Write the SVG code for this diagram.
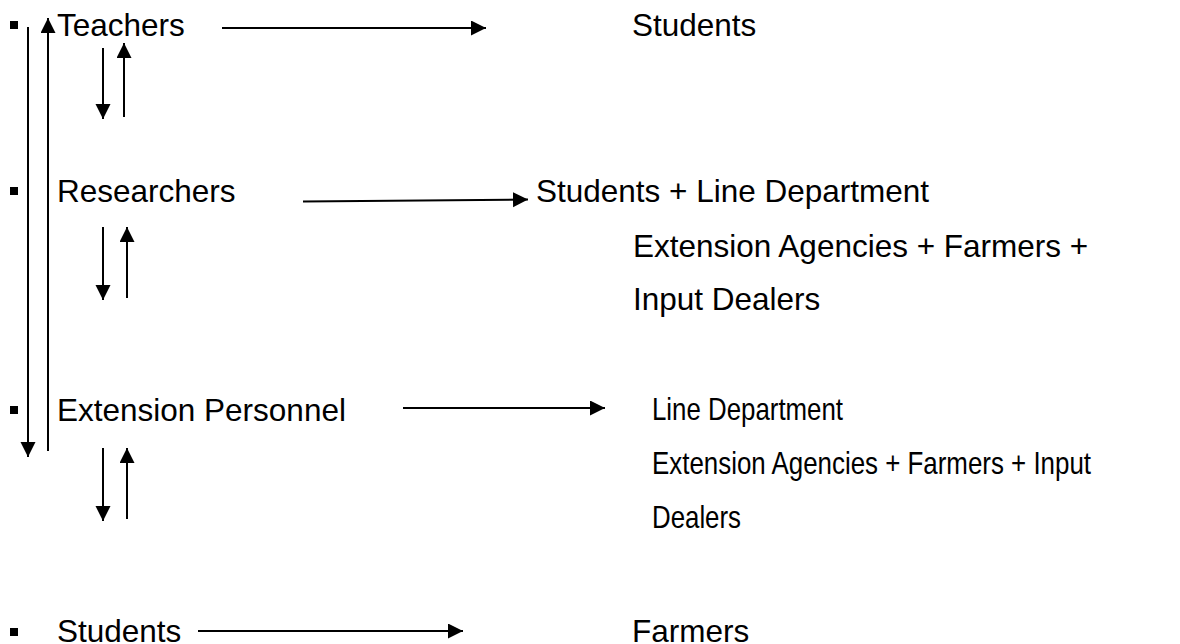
<svg xmlns="http://www.w3.org/2000/svg" width="1180" height="644" viewBox="0 0 1180 644">
<defs>
<marker id="ah" markerUnits="userSpaceOnUse" markerWidth="16" markerHeight="16" refX="15" refY="7.5" orient="auto">
<path d="M0,0 L15,7.5 L0,15 z" fill="#000"/>
</marker>
<style>
.t{font-family:"Liberation Sans",Arial,sans-serif;font-size:31.5px;fill:#000}
.c{stroke:#000;stroke-width:2;fill:none}
.a{marker-end:url(#ah)}
.b{fill:#000}
</style>
</defs>
<rect width="1180" height="644" fill="#fff"/>
<g id="teachers"><rect class="b" x="10" y="21" width="8" height="8"/><text class="t" x="57" y="36">Teachers</text></g>
<g id="students-top"><text class="t" x="632" y="36">Students</text></g>
<g id="researchers"><rect class="b" x="10" y="187" width="8" height="8"/><text class="t" x="57" y="202">Researchers</text></g>
<g id="researchers-targets"><text class="t" x="536" y="202">Students + Line Department</text><text class="t" x="633" y="257">Extension Agencies + Farmers +</text><text class="t" x="633" y="310">Input Dealers</text></g>
<g id="extension"><rect class="b" x="10" y="406" width="8" height="8"/><text class="t" x="57" y="421">Extension Personnel</text></g>
<g id="extension-targets"><text class="t" x="652" y="420" textLength="191" lengthAdjust="spacingAndGlyphs">Line Department</text><text class="t" x="652" y="474" textLength="439" lengthAdjust="spacingAndGlyphs">Extension Agencies + Farmers + Input</text><text class="t" x="652" y="528" textLength="89" lengthAdjust="spacingAndGlyphs">Dealers</text></g>
<g id="students-bottom"><rect class="b" x="10" y="628" width="8" height="8"/><text class="t" x="57" y="642">Students</text></g>
<g id="farmers"><text class="t" x="632" y="642">Farmers</text></g>
<g id="connectors">
<line class="c a" x1="222" y1="28" x2="486" y2="28"/>
<line class="c a" x1="303" y1="201.5" x2="528" y2="199.5"/>
<line class="c a" x1="403" y1="408" x2="605" y2="408"/>
<line class="c a" x1="198" y1="631" x2="463" y2="631"/>
<line class="c a" x1="28" y1="27" x2="28" y2="457"/>
<line class="c a" x1="48" y1="451" x2="48" y2="18"/>
<line class="c a" x1="103" y1="48" x2="103" y2="119"/>
<line class="c a" x1="124" y1="117" x2="124" y2="43"/>
<line class="c a" x1="103" y1="227" x2="103" y2="300"/>
<line class="c a" x1="127" y1="298" x2="127" y2="227"/>
<line class="c a" x1="103" y1="448" x2="103" y2="521"/>
<line class="c a" x1="127" y1="519" x2="127" y2="448"/>
</g>
</svg>
